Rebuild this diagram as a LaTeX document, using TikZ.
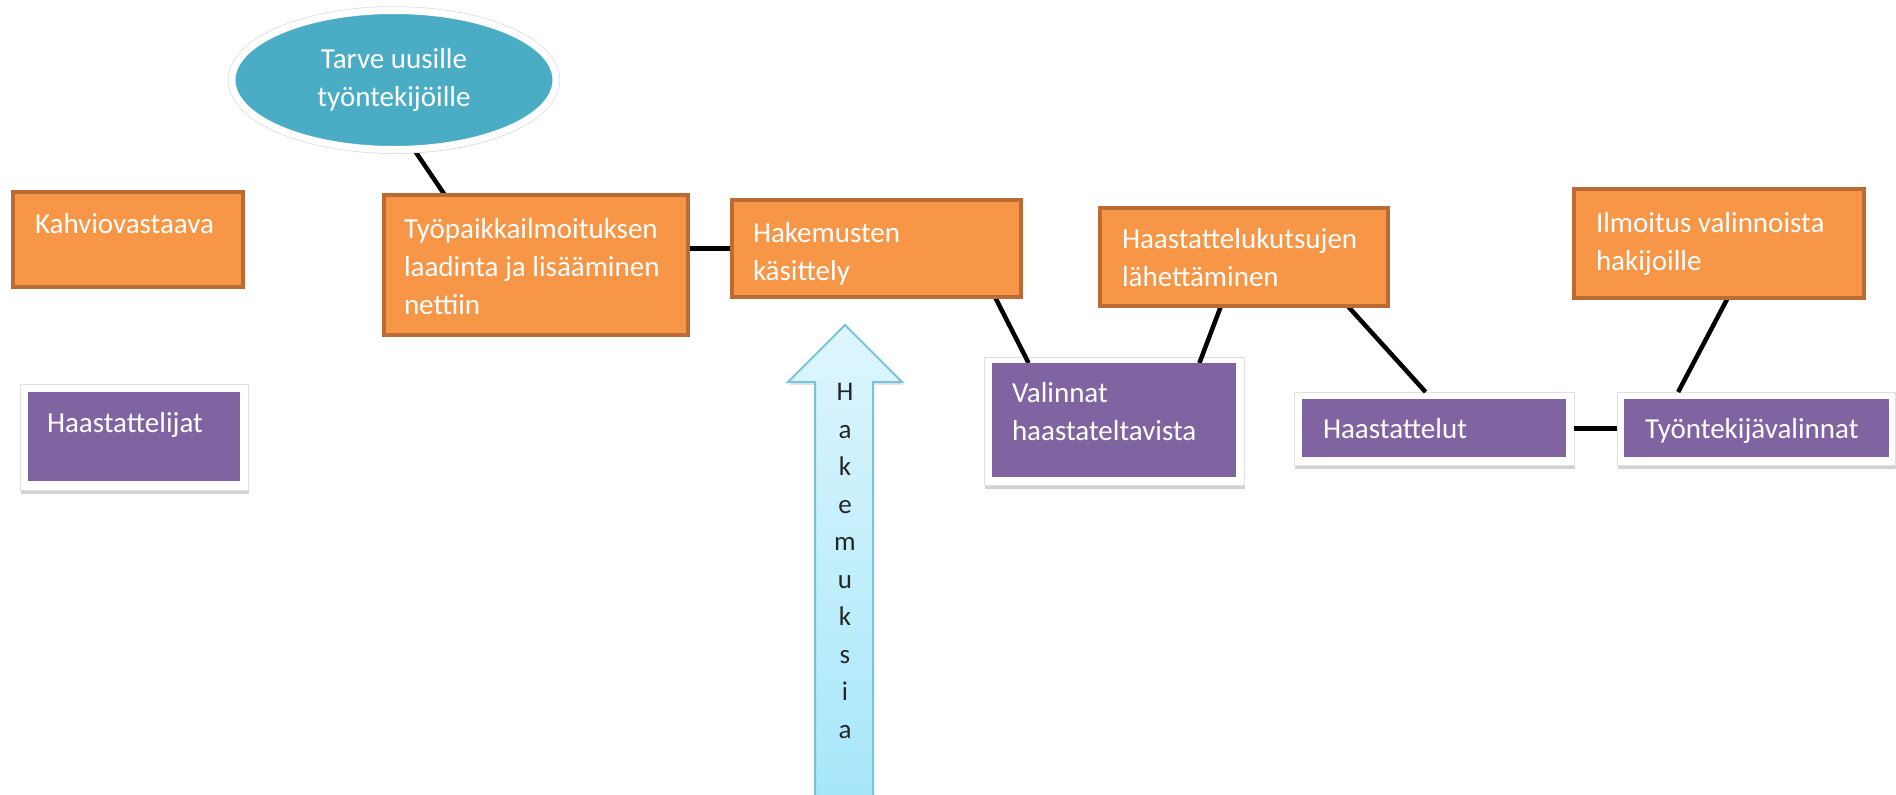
\documentclass[tikz,border=0pt]{standalone}
\usepackage{fontspec}
\setmainfont{Carlito}
\usetikzlibrary{shadows,calc,shapes.geometric}
\definecolor{orfill}{RGB}{247,150,70}
\definecolor{orline}{RGB}{186,108,52}
\definecolor{purp}{RGB}{128,100,162}
\definecolor{ellblue}{RGB}{75,172,198}
\definecolor{arrtop}{RGB}{222,246,253}
\definecolor{arrbot}{RGB}{166,231,250}
\definecolor{arrline}{RGB}{120,196,216}
\pgfdeclarelayer{back}
\pgfdeclarelayer{top}
\pgfsetlayers{back,main,top}
\begin{document}
\begin{tikzpicture}[x=1pt,y=-1pt,
  every node/.style={inner sep=0pt, outer sep=0pt},
  obox/.style={rectangle, draw=orline, fill=orfill, line width=4pt},
  pframe/.style={rectangle, fill=white, draw=black!12, line width=0.6pt,
     drop shadow={shadow xshift=1pt, shadow yshift=-4pt, opacity=0.35}},
  pbox/.style={rectangle, fill=purp},
  btxt/.style={anchor=base west, align=left, text=white, font=\fontsize{29}{38}\selectfont},
  conn/.style={draw=black, line width=4.5pt},
]
\useasboundingbox (0,0) rectangle (1896,795);
\begin{pgfonlayer}{back}
\fill[white] (0,0) rectangle (1896,795);
\end{pgfonlayer}

\begin{pgfonlayer}{top}
% ellipse
\node[ellipse, fill=ellblue, draw=white, line width=7pt, minimum width=324pt, minimum height=139pt,
  drop shadow={shadow xshift=1pt, shadow yshift=-4pt, opacity=0.3},
  preaction={draw=black!13, line width=8.5pt},
  align=center, text=white, font=\fontsize{29}{38}\selectfont] (ell) at (394,80) {Tarve uusille\\työntekijöille};
% orange boxes
\node[obox, minimum width=230pt, minimum height=95pt] (kah) at (128,239.5) {};
\node[obox, minimum width=304pt, minimum height=140pt] (tyo) at (536,265) {};
\node[obox, minimum width=289pt, minimum height=97pt] (hak) at (876.5,248.5) {};
\node[obox, minimum width=288pt, minimum height=98pt] (kut) at (1244,257) {};
\node[obox, minimum width=290pt, minimum height=109pt] (ilm) at (1719,243.5) {};
% purple boxes
\node[pbox, minimum width=212pt, minimum height=89pt] (hjp) at (134,436.5) {};
\node[pbox, minimum width=244pt, minimum height=114pt] (valp) at (1114,420) {};
\node[pbox, minimum width=264pt, minimum height=58pt] (hap) at (1434,428) {};
\node[pbox, minimum width=265pt, minimum height=58pt] (tvp) at (1756.5,428) {};
% texts (anchor = baseline of the last line)
\node[btxt] (kah-t) at (35,233) {Kahviovastaava};
\node[btxt] (tyo-t) at (404,314) {Työpaikkailmoituksen\\laadinta ja lisääminen\\nettiin};
\node[btxt] (hak-t) at (753,280) {Hakemusten\\käsittely};
\node[btxt] (kut-t) at (1122,286) {Haastattelukutsujen\\lähettäminen};
\node[btxt] (ilm-t) at (1596,270) {Ilmoitus valinnoista\\hakijoille};
\node[btxt] (val-t) at (1012,440) {Valinnat\\haastateltavista};
\node[btxt] (hj-t) at (47,432) {Haastattelijat};
\node[btxt] (ha-t) at (1323,438) {Haastattelut};
\node[btxt] (tv-t) at (1645,438) {Työntekijävalinnat};
% arrow
\path[top color=arrtop, bottom color=arrbot, draw=arrline, line width=2pt,
  drop shadow={shadow xshift=1pt, shadow yshift=-3pt, opacity=0.2}]
  (845,325) -- (902,382) -- (873,382) -- (873,800) -- (815,800) -- (815,382) -- (788,382) -- cycle;
\node[align=center, text=black!85, font=\fontsize{27}{37.5}\selectfont] (arr-t) at (845,561)
  {H\\a\\k\\e\\m\\u\\k\\s\\i\\a};
\end{pgfonlayer}

% white frames of purple boxes
\node[pframe, minimum width=228pt, minimum height=106pt] (hjf) at (134,437) {};
\node[pframe, minimum width=260pt, minimum height=128pt] (valf) at (1114,421) {};
\node[pframe, minimum width=280pt, minimum height=73pt] (haf) at (1434,428.5) {};
\node[pframe, minimum width=278pt, minimum height=73pt] (tvf) at (1756,428.5) {};

% connectors
\draw[conn] ($(ell.south)+(20,0)$) -- ($(tyo.north west)!0.2!(tyo.north east)$);
\draw[conn] (tyo.center |- hak.center) -- (hak.center);
\draw[conn] ($(hak.south west)!0.91!(hak.south east)$) -- ($(valp.north west)!0.15!(valp.north east)$);
\draw[conn] ($(kut.south west)!0.42!(kut.south east)$) -- ($(valp.north west)!0.85!(valp.north east)$);
\draw[conn] ($(kut.south west)!0.86!(kut.south east)$) -- ($(haf.north west)!0.47!(haf.north east)$);
\draw[conn] (haf.east) -- (tvf.west);
\draw[conn] ($(ilm.south west)!0.53!(ilm.south east)$) -- ($(tvf.north west)!0.22!(tvf.north east)$);
\end{tikzpicture}
\end{document}
